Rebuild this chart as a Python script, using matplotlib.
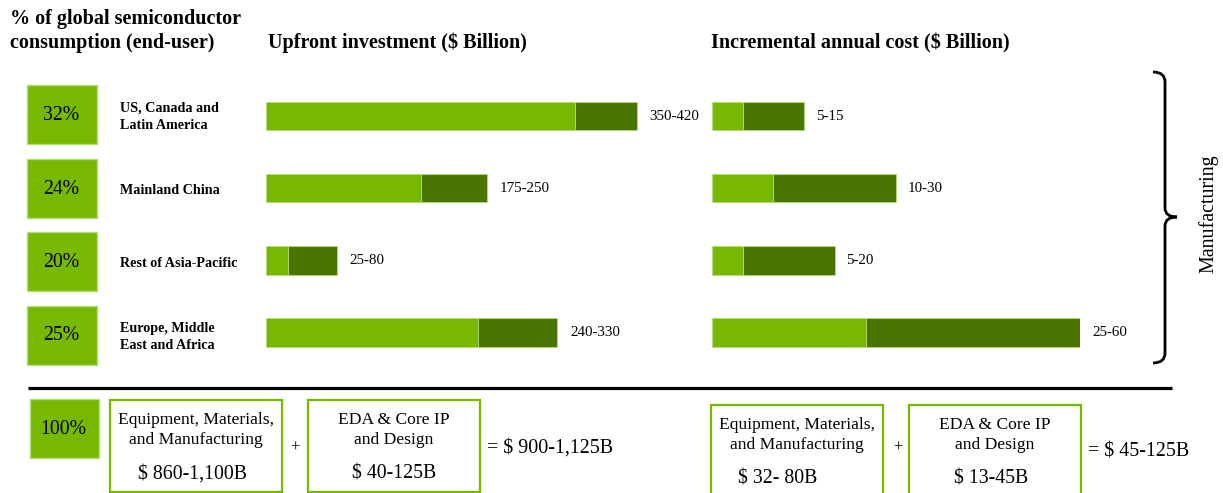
import matplotlib
matplotlib.use("Agg")
import matplotlib.pyplot as plt
from matplotlib.patches import Rectangle, PathPatch
from matplotlib.path import Path

# ---------------- data ----------------
regions = ["US, Canada and\nLatin America", "Mainland China", "Rest of Asia-Pacific",
           "Europe, Middle\nEast and Africa"]
consumption_share = ["32%", "24%", "20%", "25%"]
upfront_low = [350, 175, 25, 240]
upfront_high = [420, 250, 80, 330]
upfront_labels = ["350-420", "175-250", "25-80", "240-330"]
annual_low = [5, 10, 5, 25]
annual_high = [15, 30, 20, 60]
annual_labels = ["5-15", "10-30", "5-20", "25-60"]
total_share = "100%"
upfront_boxes = [("Equipment, Materials,\nand Manufacturing", "$ 860-1,100B"),
                 ("EDA & Core IP\nand Design", "$ 40-125B")]
upfront_total = "= $ 900-1,125B"
annual_boxes = [("Equipment, Materials,\nand Manufacturing", "$ 32- 80B"),
                ("EDA & Core IP\nand Design", "$ 13-45B")]
annual_total = "= $ 45-125B"

LIGHT = "#76b900"
DARK = "#4a7500"
EDGE = "#b5dc7a"
SERIF = ["Liberation Serif", "DejaVu Serif"]
plt.rcParams["font.family"] = SERIF

W, H = 1223, 493
fig = plt.figure(figsize=(W / 100, H / 100), dpi=100)

# background axes in pixel coordinates
bg = fig.add_axes([0, 0, 1, 1])
bg.set_xlim(0, W)
bg.set_ylim(H, 0)
bg.axis("off")

# headers
HF = 14.5
bg.text(10, 19, "% of global semiconductor", fontsize=HF, fontweight="bold", va="center")
bg.text(10, 43, "consumption (end-user)", fontsize=HF, fontweight="bold", va="center")
bg.text(268, 43, "Upfront investment ($ Billion)", fontsize=HF, fontweight="bold", va="center")
bg.text(711, 43, "Incremental annual cost ($ Billion)", fontsize=HF, fontweight="bold", va="center")

nrows = len(regions)
for i, (reg, share) in enumerate(zip(regions, consumption_share)):
    yc = 114.5 + 73.5 * i
    bg.add_patch(Rectangle((27, yc - 29.5), 70, 59, facecolor=LIGHT, edgecolor=EDGE, lw=1))
    bg.text(61, yc + 1, share, fontsize=14.2, ha="center", va="center")
    bg.text(120, yc + 2, reg, fontsize=10.2, fontweight="bold", ha="left", va="center",
            linespacing=1.45)

# bar axes (rows at 116 + 72.2*i px)
bar_top = 116 - 72.2 / 2
bar_step = 72.2

def bar_axes(left_px, width_px, xmax):
    ax = fig.add_axes([left_px / W, 1 - (bar_top + bar_step * nrows) / H,
                       width_px / W, bar_step * nrows / H])
    ax.set_xlim(0, xmax)
    ax.set_ylim(nrows - 0.5, -0.5)
    ax.axis("off")
    return ax

ax1 = bar_axes(266, 0.883 * 450, 450)
ax2 = bar_axes(712, 6.14 * 60, 60)

for ax, lo, hi, labs, off in [(ax1, upfront_low, upfront_high, upfront_labels, 14.5),
                              (ax2, annual_low, annual_high, annual_labels, 1.9)]:
    ys = list(range(nrows))
    ax.barh(ys, lo, height=0.395, color=LIGHT, edgecolor=EDGE, lw=0.6)
    ax.barh(ys, [h - l for h, l in zip(hi, lo)], left=lo, height=0.395, color=DARK,
            edgecolor=EDGE, lw=0.6)
    for y, h, t in zip(ys, hi, labs):
        ax.text(h + off, y, t, fontsize=10.8, va="center", ha="left", clip_on=False)

# brace
verts = [(1153, 72), (1165, 72), (1165, 82), (1165, 208), (1165, 217), (1177, 217),
         (1165, 217), (1165, 226), (1165, 353), (1165, 363), (1153, 363)]
codes = [Path.MOVETO, Path.CURVE3, Path.CURVE3, Path.LINETO, Path.CURVE3, Path.CURVE3,
         Path.CURVE3, Path.CURVE3, Path.LINETO, Path.CURVE3, Path.CURVE3]
bg.add_patch(PathPatch(Path(verts, codes), facecolor="none", edgecolor="black", lw=2))
bg.text(1208, 214, "Manufacturing", rotation=90, fontsize=14.4, ha="center", va="center")

# separator
bg.plot([28, 1172], [388, 388], color="black", lw=2.3, solid_capstyle="butt")

# bottom total row
bg.add_patch(Rectangle((30, 399), 69, 59, facecolor=LIGHT, edgecolor=EDGE, lw=1))
bg.text(63, 429, total_share, fontsize=14.2, ha="center", va="center")

BF = 12.6
VF = 14.3

def boxes(specs, xs, val_xs, w, top, bottom, ty1, ty2, plus_x, plus_y, total, total_x, total_y):
    for (lbl, val), x, vx in zip(specs, xs, val_xs):
        bg.add_patch(Rectangle((x, top), w, bottom - top, facecolor="white",
                               edgecolor=LIGHT, lw=1.6))
        bg.text(x + w / 2, ty1, lbl, fontsize=BF, ha="center", va="center", linespacing=1.3)
        bg.text(vx, ty2, val, fontsize=VF, ha="center", va="center")
    bg.text(plus_x, plus_y, "+", fontsize=12, ha="center", va="center")
    bg.text(total_x, total_y, total, fontsize=14.4, ha="left", va="center")

boxes(upfront_boxes, [110, 308], [193, 394], 172, 400, 492, 430, 474, 295, 448,
      upfront_total, 487, 448)
boxes(annual_boxes, [711, 909], [778, 991], 172, 405, 505, 435, 479, 898, 448,
      annual_total, 1088, 452)

fig.savefig("out.png", dpi=100)
